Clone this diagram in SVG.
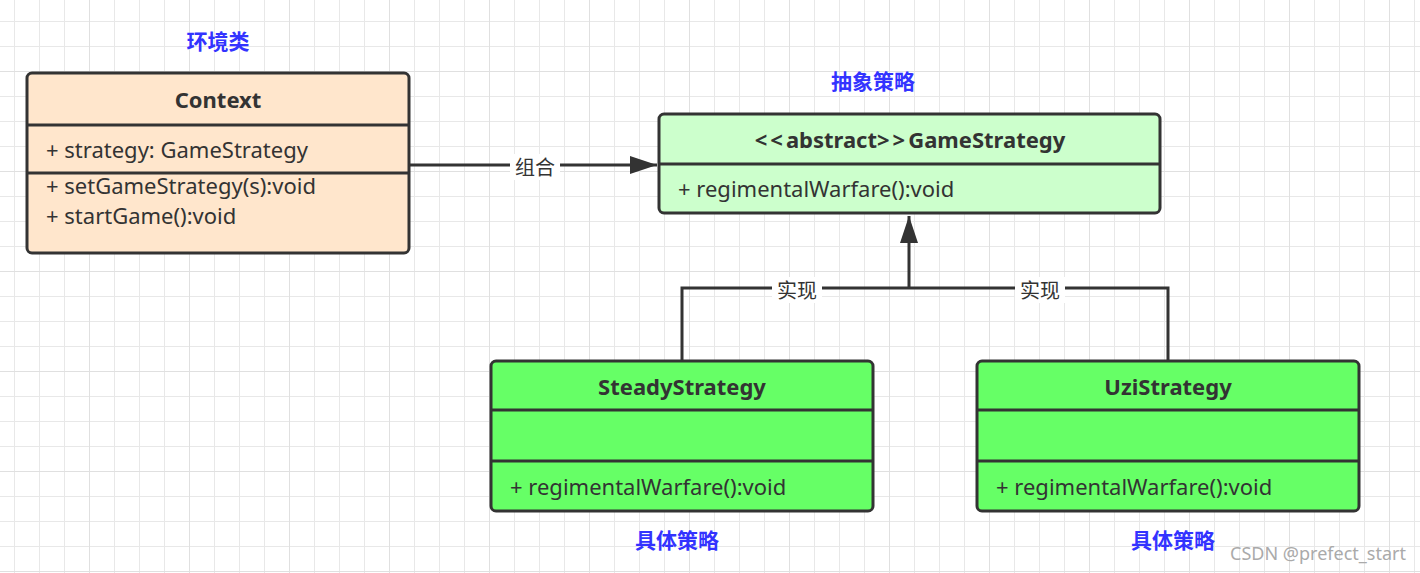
<svg xmlns="http://www.w3.org/2000/svg" width="1420" height="573" viewBox="0 0 1420 573">
<defs>
<pattern id="grid" x="14" y="21" width="25" height="25" patternUnits="userSpaceOnUse">
<path d="M0 0H25M0 0V25" fill="none" stroke="#e8e8e8" stroke-width="2"/>
</pattern>
<pattern id="gridM" x="89" y="71" width="100" height="100" patternUnits="userSpaceOnUse">
<path d="M0 0H100M0 0V100" fill="none" stroke="#e0e0e0" stroke-width="2"/>
</pattern>
<marker id="arr" markerUnits="userSpaceOnUse" markerWidth="30" markerHeight="20" refX="27" refY="10" orient="auto">
<path d="M0 1L27 10L0 19Z" fill="#333"/>
</marker>
</defs>
<style>
.box{stroke:#333;stroke-width:3}
.sep{stroke:#333;stroke-width:3}
.t{font-family:"Noto Sans","Open Sans","Liberation Sans",sans-serif;font-size:22px;fill:#333}
.b{font-family:"Noto Sans","Open Sans","Liberation Sans",sans-serif;font-size:22px;font-weight:bold;fill:#333;text-anchor:middle}
.note{font-family:"Noto Sans CJK SC",sans-serif;font-size:21px;font-weight:bold;fill:#3333ff;text-anchor:middle}
.lbl{font-family:"Noto Sans CJK SC",sans-serif;font-size:20px;fill:#333;text-anchor:middle}
.ln{fill:none;stroke:#333;stroke-width:3}
</style>
<rect width="1420" height="573" fill="#fff"/>
<rect width="1420" height="573" fill="url(#grid)"/>
<rect width="1420" height="573" fill="url(#gridM)"/>

<g id="connectors">
<path class="ln" d="M410 165H657" marker-end="url(#arr)"/>
<rect x="510" y="154" width="50" height="26" fill="#fff"/>
<text class="lbl" x="535" y="175">组合</text>
<path class="ln" d="M682 360V288H1168V360"/>
<path class="ln" d="M909 288V216" stroke-width="4" marker-end="url(#arr)"/>
<rect x="772" y="277" width="50" height="26" fill="#fff"/>
<text class="lbl" x="797" y="298">实现</text>
<rect x="1015" y="277" width="50" height="26" fill="#fff"/>
<text class="lbl" x="1040" y="298">实现</text>
</g>

<g id="context">
<rect class="box" x="27" y="73" width="382" height="180" rx="5" fill="#ffe6cc"/>
<path class="sep" d="M27 125H409M27 173H409"/>
<text class="b" x="218" y="108">Context</text>
<text class="t" x="46" y="158">+ strategy: GameStrategy</text>
<text class="t" x="46" y="194">+ setGameStrategy(s):void</text>
<text class="t" x="46" y="224">+ startGame():void</text>
</g>

<g id="gameStrategy">
<rect class="box" x="659" y="114" width="501" height="99" rx="5" fill="#ccffcc"/>
<path class="sep" d="M659 164H1160"/>
<text class="b" x="910" y="148"><tspan letter-spacing="3">&lt;&lt;</tspan>abstract<tspan letter-spacing="3">&gt;&gt;</tspan>GameStrategy</text>
<text class="t" x="678" y="197">+ regimentalWarfare():void</text>
</g>

<g id="steady">
<rect class="box" x="491" y="361" width="382" height="150" rx="5" fill="#66ff66"/>
<path class="sep" d="M491 410H873M491 461H873"/>
<text class="b" x="682" y="395">SteadyStrategy</text>
<text class="t" x="510" y="495">+ regimentalWarfare():void</text>
</g>

<g id="uzi">
<rect class="box" x="977" y="361" width="382" height="150" rx="5" fill="#66ff66"/>
<path class="sep" d="M977 410H1359M977 461H1359"/>
<text class="b" x="1168" y="395">UziStrategy</text>
<text class="t" x="996" y="495">+ regimentalWarfare():void</text>
</g>

<g id="notes">
<text class="note" x="218" y="49">环境类</text>
<text class="note" x="873" y="89">抽象策略</text>
<text class="note" x="677" y="548">具体策略</text>
<text class="note" x="1173" y="548">具体策略</text>
</g>
<text x="1318" y="560" font-family="Noto Sans,Liberation Sans,sans-serif" font-size="18" fill="#aaa" text-anchor="middle">CSDN @prefect_start</text>
</svg>
